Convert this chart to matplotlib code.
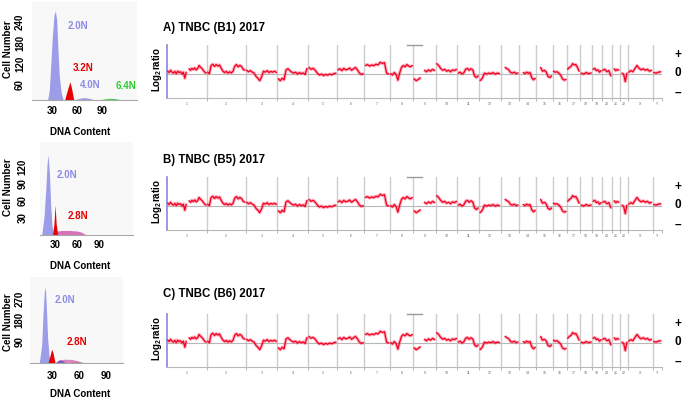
import numpy as np
import matplotlib
matplotlib.use('Agg')
import matplotlib.pyplot as plt
from matplotlib.transforms import blended_transform_factory

plt.rcParams['font.family'] = ['Liberation Sans', 'DejaVu Sans']
plt.rcParams['font.weight'] = 'bold'
plt.rcParams['mathtext.fontset'] = 'custom'
plt.rcParams['mathtext.rm'] = 'Liberation Sans:bold'
plt.rcParams['mathtext.it'] = 'Liberation Sans:bold'

W, H = 685, 399

# ---- flow cytometry histograms (DNA content, cell number) ----
# row A
a_blue_x = [23.6, 26.8, 28.4, 30.4, 32.4, 34.0, 35.6, 37.2, 38.8, 41.2, 44.4]
a_blue_y = [0, 46, 112, 198, 260, 271, 246, 160, 84, 36, 10]
a_blue2_x = [50, 57, 63, 68, 72, 78, 86]
a_blue2_y = [0, 18, 22, 24, 23, 20, 0]
a_red_x = [43.5, 46, 49, 51.6, 53.5, 55.5, 58]
a_red_y = [0, 25, 50, 69, 50, 25, 0]
a_green_x = [80, 88, 95, 100, 106, 112, 118]
a_green_y = [0, 18, 21, 22, 21, 18, 0]
# row B
b_blue_x = [11.8, 15, 17.3, 19.1, 20.5, 22.3, 24.1, 25.9, 27.7, 30]
b_blue_y = [0, 32, 79, 126, 141, 109, 50, 15, 3, 0]
b_mag_x = [27, 32, 40, 50, 60, 66, 70, 74]
b_mag_y = [0, 7, 8, 8, 7, 5, 2, 0]
b_red_x = [26.5, 28.5, 30, 31.5, 33.5]
b_red_y = [0, 20, 53, 20, 0]
# row C
c_blue_x = [15.9, 18.6, 20, 21.5, 22.6, 23.7, 25.2, 26.7, 28.6, 31]
c_blue_y = [0, 75, 201, 298, 319, 243, 103, 33, 6, 0]
c_mag_x = [33, 38, 45, 52, 58, 62, 66]
c_mag_y = [0, 14, 16, 15, 10, 5, 0]
c_blue2_x = [34, 37, 39.5, 42, 45]
c_blue2_y = [0, 10, 12, 9, 0]
c_green_x = [48, 53, 58, 62, 66]
c_green_y = [0, 5, 6, 4, 0]
c_red_x = [25.5, 27.5, 29.6, 31, 33.5]
c_red_y = [0, 25, 58, 45, 0]

# ---- copy number profile ----
chroms = ['1', '2', '3', '4', '5', '6', '7', '8', '9', '10', '11', '12', '13', '14', '15',
          '16', '17', '18', '19', '20', '21', '22', 'X', 'Y']
chrom_len = [249, 243, 198, 191, 181, 171, 159, 146, 141, 136, 135, 134, 115, 107, 103,
             90, 81, 78, 59, 63, 48, 51, 155, 59]
nan = np.nan
log2_ratio = [
    [0.15, 0.08, 0.2, 0.1, 0.05, 0.14, 0.02, 0.15, 0.08, 0.12, 0.0, 0.1, -0.22, 0.1, nan,
     0.28, 0.2, 0.3, 0.24, 0.32, 0.22, 0.28, 0.45, 0.36, 0.3, 0.2, 0.1, 0.05],
    [0.1, 0.02, 0.45, 0.52, 0.4, 0.5, 0.42, 0.48, 0.3, 0.15, 0.08, 0.14, 0.05, 0.12, 0.06, 0.15,
     0.42, 0.5, 0.38, 0.46, 0.4, 0.25, 0.2],
    [0.2, 0.12, 0.18, 0.1, 0.05, -0.12, -0.22, -0.35, -0.15, 0.15, 0.1, 0.18, 0.08, 0.14, 0.1,
     0.15, 0.08],
    [-0.25, -0.35, -0.22, -0.3, 0.22, 0.28, 0.18, 0.1, 0.05, 0.1, 0.0, 0.08, 0.02, 0.06, -0.02,
     0.3],
    [0.35, 0.25, 0.3, 0.2, 0.05, -0.05, 0.0, -0.08, -0.02, -0.06, 0.0, -0.04, 0.02, 0.05],
    [0.22, 0.28, 0.18, 0.3, 0.22, 0.25, 0.32, 0.2, 0.28, 0.35, 0.22, 0.05, -0.02, 0.02],
    [0.45, 0.5, 0.42, 0.48, 0.44, 0.52, 0.48, 0.62, 0.56, 0.6, 0.05, 0.0],
    [0.02, -0.05, 0.08, -0.02, -0.32, 0.05, 0.35, 0.45, 0.38, 0.5, 0.42, 0.38, 0.45],
    [-0.25, -0.35, -0.28, -0.2, nan, 0.2, 0.12, 0.22, 0.15, 0.25, 0.18],
    [0.55, 0.45, 0.3, 0.2, 0.25, 0.15, 0.2, 0.12, 0.22, 0.18, 0.25],
    [0.05, 0.1, 0.0, 0.06, 0.25, 0.3, 0.2, 0.28, 0.22, -0.1, -0.18, -0.1],
    [-0.35, -0.22, 0.05, 0.0, 0.05, 0.02, 0.08, 0.0, 0.05, 0.03],
    [nan, nan, 0.35, 0.28, 0.22, 0.08, 0.05, 0.1, 0.02, 0.06],
    [nan, nan, 0.08, 0.02, 0.1, 0.04, 0.08, -0.2, -0.3, -0.22],
    [nan, nan, 0.35, 0.15, 0.2, 0.12, -0.12, -0.18, -0.1],
    [0.15, 0.1, 0.12, 0.05, -0.05, -0.25, -0.32, -0.28],
    [0.25, 0.35, 0.4, 0.55, 0.48, 0.5, 0.35, 0.15],
    [0.05, 0.0, 0.08, 0.02, 0.06],
    [0.25, 0.3, 0.18, 0.22, 0.1, 0.18],
    [0.2, 0.25, 0.12, 0.18, -0.1],
    [nan, 0.28, 0.18, 0.24, 0.2],
    [nan, 0.05, -0.02, -0.4, 0.05],
    [0.1, 0.18, 0.12, 0.3, 0.45, 0.3, 0.22, 0.28, 0.2, 0.25, 0.15, 0.2],
    [0.08, 0.05, 0.1, 0.12],
]
titles = ['A) TNBC (B1) 2017', 'B) TNBC (B5) 2017', 'C) TNBC (B6) 2017']

BLUE = '#8c8ce6'
RED = '#e80000'
GREEN = '#2ecc2e'
MAG = '#d050a8'

fig = plt.figure(figsize=(W / 100, H / 100), dpi=100)


def px_axes(left, top, right, bottom):
    return fig.add_axes([left / W, 1 - bottom / H, (right - left) / W, (bottom - top) / H])


def ftext(x, y, s, **kw):
    fig.text(x / W, 1 - y / H, s, **kw)


def hist_axes(box, xlim, ylim, yticks, xpad, ypad):
    ax = px_axes(*box)
    ax.set_facecolor('#f8f8f8')
    ax.set_xlim(*xlim)
    ax.set_ylim(*ylim)
    for s in ['top', 'right', 'left']:
        ax.spines[s].set_visible(False)
    ax.spines['bottom'].set_color('#a8a8a8')
    ax.spines['bottom'].set_linewidth(0.8)
    ax.set_xticks([30, 60, 90])
    ax.set_yticks(yticks)
    ax.tick_params(length=0, labelsize=7)
    ax.tick_params(axis='x', pad=xpad)
    ax.tick_params(axis='y', pad=ypad)
    for lab in ax.get_yticklabels():
        lab.set_rotation(90)
        lab.set_va('center')
    return ax


def peak(ax, x, y, color, alpha=1.0):
    ax.fill_between(x, 0, y, color=color, alpha=alpha, lw=0)


# row A histogram
ax = hist_axes((32, 2, 137, 100), (6, 132), (17, 297), [60, 120, 180, 240], 4.5, 5)
peak(ax, a_blue2_x, a_blue2_y, BLUE, 0.8)
peak(ax, a_green_x, a_green_y, GREEN, 0.9)
peak(ax, a_blue_x, a_blue_y, BLUE, 0.85)
peak(ax, a_red_x, a_red_y, RED)
ftext(68, 26, '2.0N', color=BLUE, fontsize=7, va='center')
ftext(73, 68, '3.2N', color=RED, fontsize=7, va='center')
ftext(80, 85, '4.0N', color=BLUE, fontsize=7, va='center')
ftext(116, 86, '6.4N', color=GREEN, fontsize=7, va='center')

# row B histogram
ax = hist_axes((40, 142, 133, 235), (9.5, 136), (0, 164), [30, 60, 90, 120], 3.5, 9)
peak(ax, b_mag_x, b_mag_y, MAG, 0.8)
peak(ax, b_blue_x, b_blue_y, BLUE, 0.85)
peak(ax, b_red_x, b_red_y, RED)
ftext(57, 175, '2.0N', color=BLUE, fontsize=7, va='center')
ftext(68, 216, '2.8N', color=RED, fontsize=7, va='center')

# row C histogram
ax = hist_axes((30, 277, 123, 363), (5.6, 109), (0, 360), [90, 180, 270], 6, 4)
peak(ax, c_green_x, c_green_y, GREEN, 0.6)
peak(ax, c_mag_x, c_mag_y, MAG, 0.7)
peak(ax, c_blue2_x, c_blue2_y, '#5050c0', 0.8)
peak(ax, c_blue_x, c_blue_y, BLUE, 0.85)
peak(ax, c_red_x, c_red_y, RED)
ftext(55, 300, '2.0N', color=BLUE, fontsize=7, va='center')
ftext(67, 342, '2.8N', color=RED, fontsize=7, va='center')

for yl, yx in [(49, 132), (187, 266), (322, 394)]:
    ftext(8, yl, 'Cell Number', rotation=90, ha='center', va='center', fontsize=7)
    ftext(80, yx, 'DNA Content', ha='center', va='center', fontsize=7)

# ---- CNV panels ----
starts = np.concatenate([[0], np.cumsum(chrom_len)[:-1]])
ends = np.cumsum(chrom_len)
total = ends[-1]
cnv_rows = [(45, 98, 28.5), (177, 230, 160), (314, 367, 294)]
for (top, bottom, ty), title in zip(cnv_rows, titles):
    ax = px_axes(167, top, 662, bottom)
    ax.set_xlim(0, total)
    ax.set_ylim(-1.26, 1.53)
    for s in ['top', 'right']:
        ax.spines[s].set_visible(False)
    ax.spines['left'].set_color('#8888dd')
    ax.spines['left'].set_linewidth(1.2)
    ax.spines['bottom'].set_color('#b8b8b8')
    ax.spines['bottom'].set_linewidth(0.8)
    ax.set_yticks([])
    ax.set_xticks(ends)
    ax.set_xticklabels([])
    ax.tick_params(axis='x', length=2, width=0.5, color='#999999')
    for e in ends[:-1]:
        ax.axvline(e, color='#cccccc', lw=1.0, zorder=1)
    ax.axhline(0, color='#b8b8b8', lw=0.8, zorder=1)
    ax.plot([1500, 1594], [1.53, 1.53], color='#999999', lw=1, clip_on=False)
    trans = blended_transform_factory(ax.transData, ax.transAxes)
    for c, s0, ln in zip(chroms, starts, chrom_len):
        ax.text(s0 + ln / 2, -0.08, c, transform=trans, fontsize=2.5, color='#666666',
                ha='center', va='top', fontweight='normal')
    for s0, ln, vals in zip(starts, chrom_len, log2_ratio):
        n = len(vals)
        xs = s0 + (np.arange(n) + 0.5) * ln / n
        ax.plot(xs, vals, color='#ff5070', lw=2.4, alpha=0.45, zorder=2,
                solid_capstyle='butt')
        ax.plot(xs, vals, color='#f00020', lw=0.9, zorder=3)
    ftext(163, ty, title, fontsize=8.3, va='center')
    zero_y = top + 29
    ftext(157, zero_y - 4, 'Log$_2$ratio', rotation=90, ha='center', va='center', fontsize=7)
    ftext(678, zero_y - 19, '+', ha='center', va='center', fontsize=8.5)
    ftext(678, zero_y - 1, '0', ha='center', va='center', fontsize=8.5)
    ftext(678, zero_y + 19, '–', ha='center', va='center', fontsize=8.5)

fig.savefig('out.png', dpi=100)
